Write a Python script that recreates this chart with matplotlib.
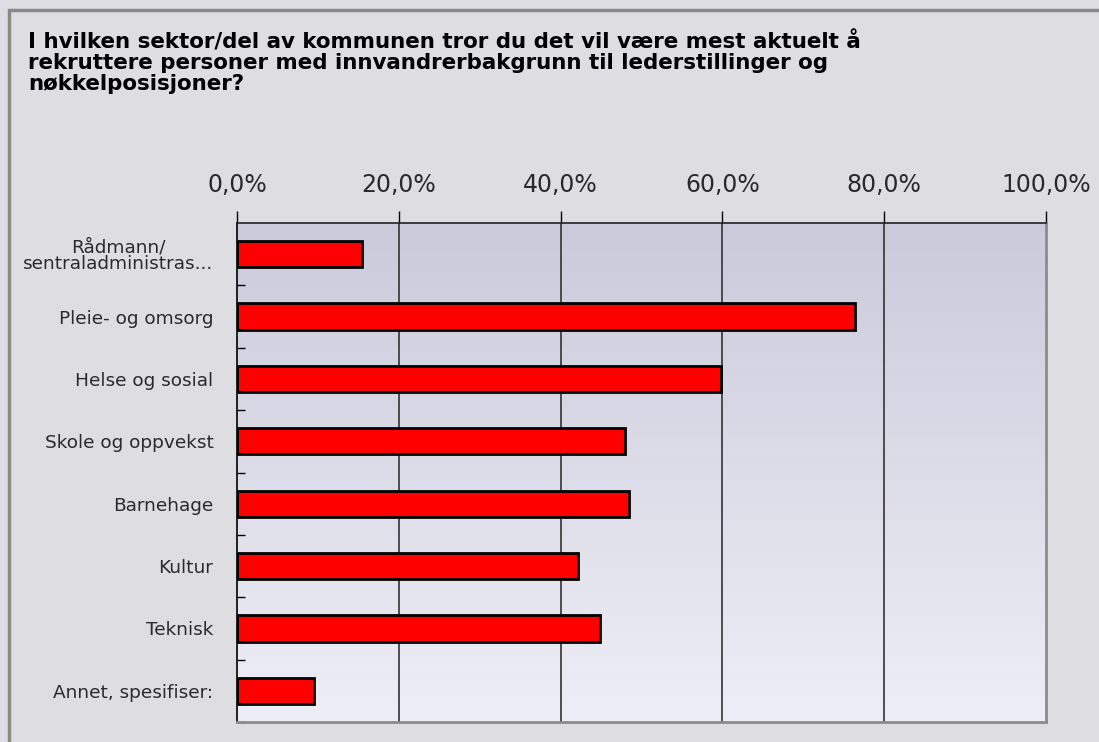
import matplotlib
matplotlib.use("Agg")
import matplotlib.pyplot as plt
from matplotlib.colors import LinearSegmentedColormap
from matplotlib.patches import Rectangle
import numpy as np

title = ("I hvilken sektor/del av kommunen tror du det vil være mest aktuelt å\n"
         "rekruttere personer med innvandrerbakgrunn til lederstillinger og\n"
         "nøkkelposisjoner?")

categories = ["Rådmann/\nsentraladministras...",
              "Pleie- og omsorg",
              "Helse og sosial",
              "Skole og oppvekst",
              "Barnehage",
              "Kultur",
              "Teknisk",
              "Annet, spesifiser:"]
percent = [15.5, 76.4, 59.8, 48.0, 48.4, 42.1, 44.9, 9.5]
xticks = [0, 20, 40, 60, 80, 100]
xticklabels = ["0,0%", "20,0%", "40,0%", "60,0%", "80,0%", "100,0%"]

W, H = 1099, 742
fig = plt.figure(figsize=(W / 100, H / 100), dpi=100)
fig.patch.set_facecolor("#dedde2")

# outer frame, only top and left edges visible
fig.patches.append(Rectangle((9 / W, -0.1), 1.2, 1 - 10 / H + 0.1,
                             transform=fig.transFigure, fill=False,
                             edgecolor="#8a8a84", linewidth=2.5))

fig.text(28 / W, 1 - 31 / H, title, ha="left", va="top", fontsize=15.4,
         fontweight="bold", linespacing=1.04, family="DejaVu Sans")

ax = fig.add_axes([237 / W, 1 - 722 / H, (1046 - 237) / W, (722 - 223) / H])

# vertical gradient behind the bars
grad = LinearSegmentedColormap.from_list("bg", ["#eeeef6", "#cbcadb"])
ax.imshow(np.linspace(0, 1, 256).reshape(-1, 1), cmap=grad, aspect="auto",
          extent=[0, 1, 0, 1], origin="lower", transform=ax.transAxes, zorder=0)

y = np.arange(len(categories))
ax.barh(y, percent, height=0.42, color="#ff0000", edgecolor="black",
        linewidth=2, zorder=3)

ax.set_xlim(0, 100)
ax.set_ylim(len(categories) - 0.5, -0.5)

ax.xaxis.tick_top()
ax.set_xticks(xticks)
ax.set_xticklabels(xticklabels, fontsize=17, color="#2a2a2a")
ax.tick_params(axis="x", direction="out", length=9, width=1, pad=10)
for xv in xticks[1:-1]:
    ax.axvline(xv, color="#333333", linewidth=1.2, zorder=1)

ax.set_yticks(y)
ax.set_yticklabels(categories, fontsize=13.3, color="#2a2a2a", linespacing=0.95)
for lab in ax.get_yticklabels():
    lab.set_multialignment("center")
ax.tick_params(axis="y", length=0, pad=17)
ax.set_yticks(np.arange(len(categories)) + 0.5, minor=True)
ax.tick_params(axis="y", which="minor", direction="in", length=6, width=1)

ax.spines["left"].set_color("black")
ax.spines["top"].set_color("#222222")
ax.spines["right"].set_color("#8c8c8c")
ax.spines["bottom"].set_color("#8c8c8c")
for s in ["left", "top"]:
    ax.spines[s].set_linewidth(1.2)
for s in ["right", "bottom"]:
    ax.spines[s].set_linewidth(2)

fig.savefig("out.png", dpi=100, facecolor=fig.get_facecolor())
